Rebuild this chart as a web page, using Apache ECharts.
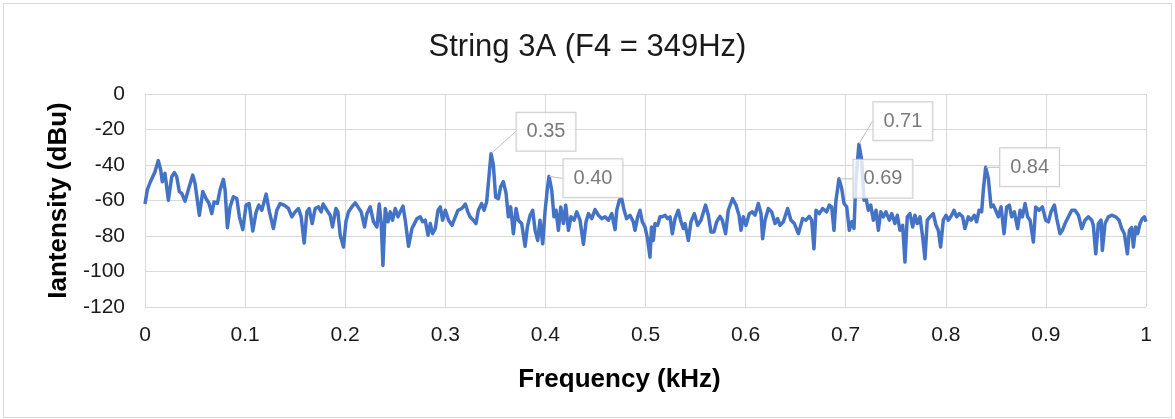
<!DOCTYPE html>
<html>
<head>
<meta charset="utf-8">
<title>String 3A</title>
<script src="https://cdn.jsdelivr.net/npm/echarts@6/dist/echarts.min.js"></script>
<style>
  html, body { margin: 0; padding: 0; background: #fff; }
  #wrap { position: absolute; left: 3px; top: 3px; width: 1167px; height: 413px; border: 1px solid #d9d9d9; }
  #spectrum { position: absolute; left: -4px; top: -4px; width: 1175px; height: 419px; }
</style>
</head>
<body>
<div id="wrap"><div id="spectrum"></div></div>
<script>
// 频谱数据 (kHz / dBu)
var freqKHz = [
  0, 0.0023, 0.005, 0.0077, 0.01, 0.0133, 0.0157, 0.0173, 0.02, 0.0233, 0.0267, 0.0293, 0.0317, 0.0343, 0.0367, 0.04,
  0.0433, 0.0477, 0.05, 0.0543, 0.0577, 0.061, 0.064, 0.0667, 0.069, 0.0723, 0.075, 0.0783, 0.08, 0.0823, 0.085, 0.0883,
  0.0917, 0.0943, 0.0977, 0.101, 0.104, 0.1077, 0.111, 0.1137, 0.1167, 0.121, 0.1243, 0.1283, 0.1317, 0.135, 0.139, 0.1433,
  0.1467, 0.15, 0.1533, 0.156, 0.159,
  0.1617, 0.164, 0.167, 0.17, 0.1733, 0.176, 0.178, 0.1817, 0.185, 0.1873, 0.1907, 0.1927, 0.195, 0.1983, 0.2007, 0.2033,
  0.2067, 0.21, 0.2127, 0.216, 0.2193, 0.2217, 0.225, 0.2283, 0.2317, 0.234, 0.236, 0.2377, 0.24, 0.2427, 0.245, 0.2473,
  0.25, 0.2527, 0.255, 0.2577, 0.26, 0.2633, 0.2667, 0.2683, 0.2717, 0.275, 0.2773, 0.28, 0.2827, 0.285, 0.2873, 0.29,
  0.2927, 0.295, 0.2973, 0.3, 0.3033, 0.3067, 0.3093, 0.3127, 0.3165, 0.32, 0.3225,
  0.3247, 0.328, 0.3307, 0.333, 0.3363, 0.3387, 0.3413, 0.343, 0.3457, 0.348, 0.3503, 0.353, 0.3553, 0.358, 0.3607, 0.363,
  0.3653, 0.368, 0.3707, 0.373, 0.3763, 0.3797, 0.382, 0.3847, 0.3873, 0.3897, 0.3923, 0.3946, 0.3973, 0.3996, 0.402, 0.4036,
  0.4063, 0.4086, 0.4106, 0.413, 0.4153, 0.418, 0.4203, 0.423, 0.4256, 0.4286, 0.4313, 0.4346, 0.438, 0.4406, 0.443, 0.4463,
  0.4496, 0.453, 0.4563, 0.4596, 0.463, 0.4663, 0.4696, 0.4713, 0.474, 0.4763, 0.4786, 0.4812, 0.4845, 0.4878,
  0.4895, 0.4922, 0.4945, 0.4968, 0.4995, 0.502, 0.5045, 0.506, 0.5078, 0.5095, 0.5121, 0.5145, 0.5168, 0.5195, 0.5221, 0.5245,
  0.5268, 0.5295, 0.5328, 0.5355, 0.5378, 0.5395, 0.5428, 0.5454, 0.5488, 0.5521, 0.5554, 0.56, 0.5628, 0.5654, 0.5684, 0.5711,
  0.5744, 0.5767, 0.58, 0.5827, 0.587, 0.5904, 0.5934, 0.5954, 0.5977, 0.6004, 0.6037, 0.6067, 0.6094, 0.6127, 0.6154, 0.617,
  0.6194, 0.6227, 0.626, 0.6294, 0.632, 0.6344, 0.6377, 0.642, 0.6453, 0.6487, 0.6527,
  0.657, 0.6603, 0.6636, 0.666, 0.6683, 0.6703, 0.6736, 0.677, 0.681, 0.6836, 0.686, 0.6883, 0.6903, 0.6933, 0.696, 0.6983,
  0.701, 0.7036, 0.706, 0.7083, 0.7102, 0.7132, 0.716, 0.7183, 0.7203, 0.7226, 0.725, 0.7276, 0.7303, 0.7326, 0.735, 0.7376,
  0.7402, 0.7436, 0.746, 0.7492, 0.7516, 0.7542, 0.7569, 0.7592, 0.7615, 0.7642, 0.7669, 0.7692, 0.7715, 0.7742, 0.7769, 0.7792,
  0.7815, 0.7842, 0.7875, 0.7902, 0.7925, 0.7948, 0.7975, 0.8002, 0.8025, 0.8058, 0.8082, 0.8108, 0.8135, 0.8168, 0.8191,
  0.8225, 0.8252, 0.8285, 0.8308, 0.8332, 0.8358, 0.8375, 0.8398, 0.8425, 0.8452, 0.8475, 0.8498, 0.8525, 0.8552, 0.8582, 0.8608,
  0.8635, 0.8658, 0.8685, 0.8718, 0.8742, 0.8765, 0.8792, 0.8818, 0.8842, 0.8875, 0.8898, 0.8931, 0.8965, 0.8998, 0.9025, 0.9051,
  0.9085, 0.9108, 0.9141, 0.9165, 0.9191, 0.9225, 0.9258, 0.9291, 0.9325, 0.9358, 0.9391, 0.9424, 0.9458, 0.9474, 0.9498, 0.9524,
  0.9551, 0.9564, 0.9591, 0.9624, 0.9657, 0.9697, 0.9731, 0.9757, 0.9784, 0.9814, 0.9834, 0.9857, 0.9874, 0.9897, 0.9917, 0.994,
  0.9964, 0.9984, 1.0
];
var intensityDBu = [
  -62, -54, -50, -46.6, -43.8, -37.5, -42.8, -49.4, -44.7, -59.8, -46.6, -44.3, -46.6, -55, -56, -60.4,
  -54, -45.7, -50.4, -68.3, -55, -58.9, -61.7, -67.4, -60.8, -61.7, -54, -48.1, -54, -75.3, -63.6, -57.9,
  -58.9, -69.2, -76.4, -62.6, -61.7, -77.2, -66.4, -62.6, -65.5, -56.4, -66.4, -75.8, -65.5, -61.7, -62.6, -64.5,
  -69.2, -66.4, -64.5, -69.2, -84,
  -66.4, -64.5, -73, -64.5, -63.6, -66.4, -62, -65.5, -68.3, -74.9, -64.5, -66.4, -79.6, -86.2, -72, -66.4,
  -63.6, -61.3, -63.6, -66.4, -74.9, -67.4, -63.6, -72, -74.9, -62, -73, -96.6, -64.5, -72, -66.4, -71.1,
  -64.5, -69.2, -66.4, -63.2, -71.1, -85.8, -75.8, -74, -70.2, -69.2, -72, -71.1, -79.6, -73, -78.7, -75.8,
  -65.5, -63.6, -71.1, -65.5, -71.1, -74, -70.2, -65.5, -64.5, -62, -66.4,
  -69.2, -71.1, -73, -65.5, -61.7, -65.5, -60.8, -50.4, -33.6, -40, -58.1, -59, -52.3, -49.4, -56, -69.2,
  -63.6, -78.7, -64.5, -71.1, -73, -85.8, -74.9, -68.3, -65.5, -76.8, -82.5, -71.1, -84.4, -66.4, -53.2, -46.4,
  -54.2, -69.2, -65.5, -76.8, -63.6, -73, -62.6, -76.8, -69.2, -71.1, -66.4, -71.1, -84.7, -72, -67.4, -70.2,
  -65.1, -68.3, -70.2, -69.2, -71.1, -67.4, -76.4, -65.5, -59.6, -59, -65.5, -70.2, -68.3, -72,
  -76.8, -69.2, -65.5, -72, -74.9, -81.5, -91.9, -74.9, -82.5, -73, -74, -69.2, -69.2, -68.3, -70.2, -69.2,
  -78.7, -70.2, -65.5, -72, -75.8, -73, -82.5, -72, -67.4, -74, -71.1, -62.6, -68.3, -77.7, -77.7, -72,
  -68.9, -71.1, -78.7, -65.5, -58.9, -62.6, -68.3, -76.8, -69.2, -74, -67.4, -66.4, -68.3, -61.7, -67.4, -81.5,
  -71.1, -64.5, -66.4, -73, -70.2, -74, -72, -64.5, -71.1, -73, -78.7,
  -70.2, -71.1, -68.9, -71.1, -87.2, -65.5, -67.4, -64.5, -66.4, -62.6, -63.6, -76.8, -59.8, -47.8, -53.2, -61.7,
  -63.6, -76.8, -72, -75.8, -48.5, -28.3, -37.2, -59.8, -58.9, -65.5, -62.6, -71.1, -65.5, -76.8, -66.4, -69.2,
  -66.4, -71.1, -67.4, -73, -68.3, -76.8, -74, -94.7, -69.2, -67.4, -74.9, -68.3, -73, -69.2, -80.6, -92.8,
  -71.1, -69.2, -67.4, -74, -76.8, -86.2, -71.1, -68.3, -71.1, -68.3, -65.5, -69.2, -67.4, -69.2, -75.8,
  -69.2, -71.1, -68.3, -72, -65.5, -66.4, -54.2, -41.3, -47.5, -63.6, -62.6, -65.5, -69.2, -63.6, -78.7, -63.6,
  -62.6, -69.2, -66.4, -75.8, -65.5, -69.2, -61.7, -69.2, -71.1, -83.4, -63.6, -65.5, -63.6, -71.1, -72, -66.4,
  -62.6, -70.2, -78.7, -76.8, -73, -69.2, -65.5, -65.5, -68.3, -75.8, -71.1, -69.2, -71.1, -74, -90, -73,
  -71.1, -88.1, -73, -69.2, -68.3, -69.2, -71.1, -75.8, -78.7, -90, -76.8, -75.3, -86.2, -74.9, -78.7, -73,
  -70.2, -69.2, -72
];
// 标注的峰值频率
var peakKHz = [0.3457, 0.4036, 0.6933, 0.7132, 0.8398];

var xTicks = ['0', '0.1', '0.2', '0.3', '0.4', '0.5', '0.6', '0.7', '0.8', '0.9', '1'];

var lineData = [];
for (var i = 0; i < freqKHz.length; i++) {
  lineData.push([freqKHz[i], intensityDBu[i]]);
}
var peakData = [];
for (var j = 0; j < peakKHz.length; j++) {
  var k = freqKHz.indexOf(peakKHz[j]);
  peakData.push([freqKHz[k], intensityDBu[k]]);
}

var myChart = echarts.init(document.getElementById('spectrum'));
var textFont = '"Liberation Sans", Arial, sans-serif';

// 标注框偏移
var calloutShift = [[25, -22], [14, 2], [14, 0], [14, -23], [14, 0]];

var option = {
  animation: false,
  title: {
    text: 'String 3A (F4 = 349Hz)',
    left: 'center',
    top: 27,
    textStyle: { fontFamily: textFont, fontSize: 31, fontWeight: 'normal', color: '#1a1a1a' }
  },
  grid: { left: 145, right: 29, top: 94, bottom: 112 },
  xAxis: {
    type: 'value',
    min: 0,
    max: 1,
    interval: 0.1,
    name: 'Frequency (kHz)',
    nameLocation: 'middle',
    nameGap: 60,
    nameTextStyle: { fontFamily: textFont, fontSize: 26, fontWeight: 'bold', color: '#000', padding: [0, 52, 0, 0] },
    axisLine: { show: true, lineStyle: { color: '#d9d9d9', width: 1 } },
    axisTick: { show: false },
    splitLine: { show: true, lineStyle: { color: '#d9d9d9', width: 1 } },
    axisLabel: {
      margin: 18,
      fontFamily: textFont,
      fontSize: 21,
      color: '#1a1a1a',
      formatter: function (v) { return xTicks[Math.round(v * 10)]; }
    }
  },
  yAxis: {
    type: 'value',
    min: -120,
    max: 0,
    interval: 20,
    name: 'Iantensity (dBu)',
    nameLocation: 'middle',
    nameGap: 73,
    nameTextStyle: { fontFamily: textFont, fontSize: 26, fontWeight: 'bold', color: '#000' },
    axisLine: { show: true, lineStyle: { color: '#d9d9d9', width: 1 } },
    axisTick: { show: false },
    splitLine: { show: true, lineStyle: { color: '#d9d9d9', width: 1 } },
    axisLabel: { margin: 20, fontFamily: textFont, fontSize: 21, color: '#1a1a1a' }
  },
  series: [
    {
      name: 'spectrum',
      type: 'line',
      data: lineData,
      showSymbol: false,
      symbol: 'none',
      lineStyle: { color: '#4472c4', width: 3.5, join: 'round' },
      z: 3
    },
    {
      name: 'peaks',
      type: 'scatter',
      data: peakData,
      symbolSize: 1,
      itemStyle: { color: 'rgba(0,0,0,0)' },
      z: 4,
      label: {
        show: true,
        position: 'right',
        distance: 0,
        formatter: function (p) { return p.value[0].toFixed(2); },
        fontFamily: textFont,
        fontSize: 20,
        lineHeight: 20,
        color: '#595959',
        backgroundColor: '#fff',
        borderColor: '#bfbfbf',
        borderWidth: 1,
        padding: [9, 10]
      },
      labelLine: { show: true, lineStyle: { color: '#bfbfbf', width: 1 } },
      labelLayout: function (p) {
        var s = calloutShift[p.dataIndex];
        return { dx: s[0], dy: s[1] };
      }
    }
  ]
};
myChart.setOption(option);
</script>
</body>
</html>
